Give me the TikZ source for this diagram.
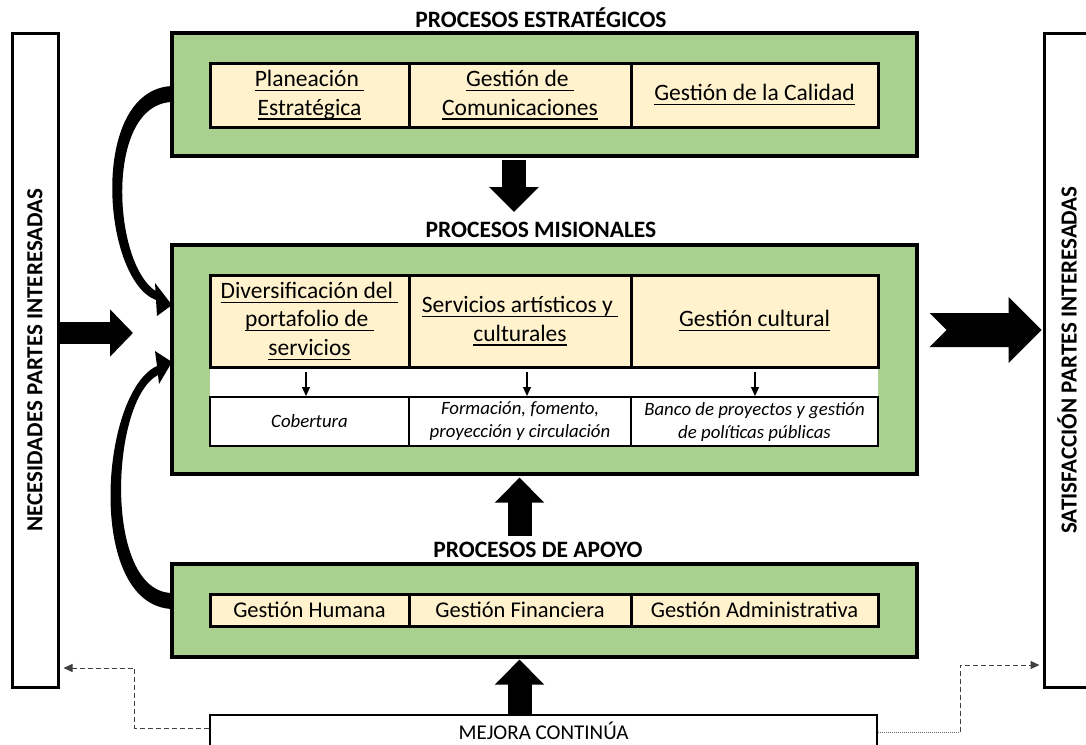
\documentclass[tikz,border=0pt]{standalone}
\usepackage{fontspec}
\setmainfont{Carlito}
\usetikzlibrary{arrows.meta}
\definecolor{verdeproc}{HTML}{A9D08E}
\definecolor{cremaproc}{HTML}{FFF2CC}
\newcommand{\subr}[1]{\sbox0{#1}\rlap{\rule[-4.5pt]{\wd0}{1.3pt}}\usebox0}
\tikzset{
  marco/.style={draw, line width=3.2pt, fill=verdeproc, minimum width=745pt, inner sep=0pt},
  celda/.style={draw, line width=3pt, fill=cremaproc, align=center, inner sep=0pt,
    font=\fontsize{23.5pt}{28.5pt}\selectfont},
  detalle/.style={draw, line width=2pt, fill=white, align=center, inner sep=0pt,
    minimum height=49pt, font=\fontsize{18.8pt}{23pt}\selectfont\itshape},
  titulo/.style={font=\fontsize{23.5pt}{26pt}\selectfont\bfseries},
  lateral/.style={draw, line width=3pt, minimum width=46pt, minimum height=654pt, inner sep=0pt},
  bloque/.style={line width=24pt, -{Triangle[length=25pt,width=48pt]}},
  flechita/.style={line width=1.2pt, -{Triangle[length=9pt,width=8pt]}},
  mejora/.style={line width=1pt, black!75, dash pattern=on 5pt off 3pt,
    -{Triangle[length=9pt,width=8pt]}},
}

\begin{document}
\begin{tikzpicture}[x=1pt,y=-1pt]
    \useasboundingbox (0,0) rectangle (1086,744);

    % partes interesadas
    \node[lateral] (nec) at (35,360) {};
    \node[titulo, font=\fontsize{23pt}{24pt}\selectfont\bfseries, rotate=90] (necT) at (nec.center)
      {NECESIDADES PARTES INTERESADAS};
    \node[lateral] (sat) at (1067,360) {};
    \node[titulo, font=\fontsize{23pt}{24pt}\selectfont\bfseries, rotate=90] (satT) at (sat.center)
      {SATISFACCIÓN PARTES INTERESADAS};

    % estrategicos
    \node[titulo] (tEst) at (541,18) {PROCESOS ESTRATÉGICOS};
    \node[marco, minimum height=123pt] (estr) at (544.5,94.5) {};
    \node[celda, minimum width=199pt, minimum height=64pt] (e1) at (309.5,95)
      {\subr{Planeación\ }\\\subr{Estratégica}};
    \node[celda, minimum width=222pt, minimum height=64pt] (e2) at (520,95)
      {\subr{Gestión de\ }\\\subr{Comunicaciones}};
    \node[celda, minimum width=247pt, minimum height=64pt] (e3) at (754.5,95)
      {\subr{Gestión de la Calidad}};

    % misionales
    \node[titulo] (tMis) at (541,230) {PROCESOS MISIONALES};
    \node[marco, minimum height=229pt] (mis) at (544.5,359.5) {};
    \node[fill=white, minimum width=668pt, minimum height=30pt, inner sep=0pt] (franja) at (544,382) {};
    \node[celda, minimum width=199pt, minimum height=92pt] (m1) at (309.5,321)
      {\subr{Diversificación del\ }\\\subr{portafolio de\ }\\\subr{servicios}};
    \node[celda, minimum width=222pt, minimum height=92pt] (m2) at (520,321)
      {\subr{Servicios artísticos y\ }\\\subr{culturales}};
    \node[celda, minimum width=247pt, minimum height=92pt] (m3) at (754.5,321)
      {\subr{Gestión cultural}};
    \node[detalle, minimum width=199pt] (d1) at (309.5,421.5) {Cobertura};
    \node[detalle, minimum width=222pt] (d2) at (520,421.5)
      {Formación, fomento,\\proyección y circulación};
    \node[detalle, minimum width=247pt] (d3) at (754.5,421.5)
      {Banco de proyectos y gestión\\de políticas públicas};
    \draw[flechita, shorten <=3pt] ([xshift=-3.5pt]m1.south) -- ([xshift=-3.5pt]d1.north);
    \draw[flechita, shorten <=3pt] ([xshift=7pt]m2.south) -- ([xshift=7pt]d2.north);
    \draw[flechita, shorten <=3pt] ([xshift=0.5pt]m3.south) -- ([xshift=0.5pt]d3.north);

    % apoyo
    \node[titulo] (tApo) at (538,550) {PROCESOS DE APOYO};
    \node[marco, minimum height=93pt] (apo) at (544.5,610.5) {};
    \node[celda, minimum width=199pt, minimum height=32pt, font=\fontsize{22.5pt}{26pt}\selectfont]
      (a1) at (309.5,610) {Gestión Humana};
    \node[celda, minimum width=222pt, minimum height=32pt, font=\fontsize{22.5pt}{26pt}\selectfont]
      (a2) at (520,610) {Gestión Financiera};
    \node[celda, minimum width=247pt, minimum height=32pt, font=\fontsize{22.5pt}{26pt}\selectfont]
      (a3) at (754.5,610) {Gestión Administrativa};

    % mejora continua
    \node[draw, line width=2.5pt, fill=white, minimum width=667pt, minimum height=32pt, inner sep=0pt,
      font=\fontsize{21pt}{22pt}\selectfont] (mej) at (543.5,731) {MEJORA CONTINÚA};

    % flechas gruesas
    \coordinate (puntaE) at (514,212);
    \coordinate (baseM) at (519.5,536);
    \draw[bloque] ([xshift=-30.5pt,yshift=-2pt]estr.south) -- (puntaE);
    \draw[bloque] (baseM) -- ([xshift=-25pt,yshift=-2pt]mis.south);
    \draw[bloque] ([xshift=-24pt]mej.north) -- ([xshift=-25pt,yshift=-1pt]apo.south);
    \coordinate (entrada) at (133,333);
    \draw[line width=22pt, -{Triangle[length=23pt,width=46pt]}] ([yshift=27pt]nec.east) -- (entrada);
    \coordinate (salida) at ([xshift=11pt,yshift=29.5pt]mis.east);
    \fill (salida) ++(0,-17) -- ++(79,0) -- ++(0,-16) -- ++(33,33) -- ++(-33,33)
      -- ++(0,-16) -- ++(-79,0) -- ++(17,-17) -- cycle;

    % flechas curvas
    \fill (172,86) .. controls (88,90) and (102,280) .. (156,300) -- (157,316) -- (172,305)
      -- (155,283) -- (155.5,291) .. controls (112,262) and (105,104) .. (172,102) -- cycle;
    \fill (172,609) .. controls (85,605) and (100,392) .. (157,366) -- (155,351) -- (172,362)
      -- (159,384) -- (158,375) .. controls (110,400) and (103,592) .. (172,593) -- cycle;

    % mejora -> partes interesadas
    \draw[mejora, shorten >=4pt] ([yshift=3pt]mej.west) -- ++(-74,0) |- ([yshift=-308pt]nec.east);
    \coordinate (codoD) at ([xshift=82pt,yshift=-1pt]mej.east);
    \draw[line width=1pt, black!60, densely dotted] ([yshift=-1pt]mej.east) -- (codoD);
    \draw[mejora, shorten >=3pt] (codoD) |- ([yshift=-305pt]sat.west);
\end{tikzpicture}
\end{document}
